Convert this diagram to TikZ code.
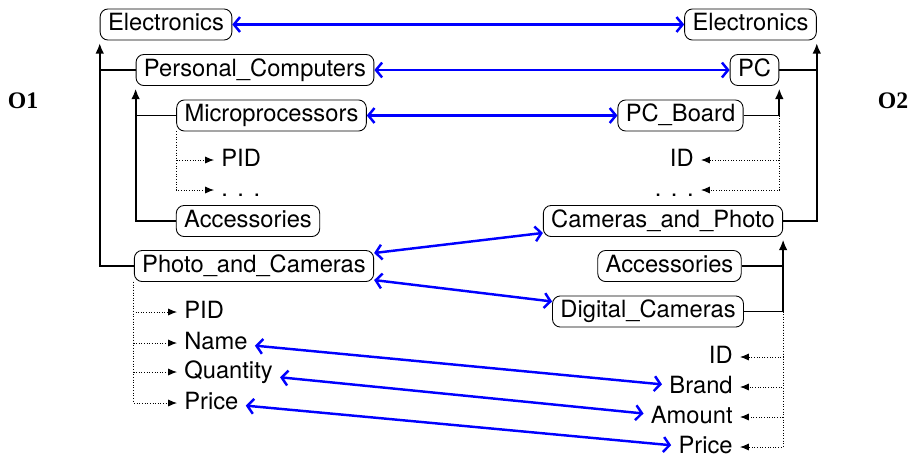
\documentclass[tikz,border=0pt]{standalone}
\usepackage{fontspec}
\setmainfont{TeX Gyre Heros}
\newfontfamily\ofont{Liberation Serif}
\usetikzlibrary{arrows.meta}

\begin{document}
\begin{tikzpicture}[x=0.02cm,y=-0.02cm,
  font=\fontsize{13.5}{16}\selectfont,
  box/.style={draw,line width=0.5pt,rounded corners=4.5pt,inner xsep=4.5pt,inner ysep=4pt,text height=0.85em,text depth=0.12em},
  attr/.style={inner sep=4pt,text height=0.85em,text depth=0.12em},
  tree/.style={line width=1.1pt,-{Latex[length=6pt,width=5pt]},shorten >=1.5pt},
  sub/.style={densely dotted,line width=0.5pt,-{Latex[length=5pt,width=4pt]}},
  link/.style={blue,line width=1.4pt,{Straight Barb[length=3.5pt,width=8.5pt]}-{Straight Barb[length=3.5pt,width=8.5pt]}}]
\useasboundingbox (0,0) rectangle (910,461);

\node[font=\ofont\bfseries\fontsize{13.5}{16}\selectfont] (o1) at (23,101) {O1};
\node[font=\ofont\bfseries\fontsize{13.5}{16}\selectfont] (o2) at (893,101) {O2};

\node[box] (eL) at (166,24.5) {Electronics};
\node[box] (pcL) at (255,70) {Personal\_Computers};
\node[box] (mp) at (271.5,115.5) {Microprocessors};
\node[attr,anchor=west] (pid1) at (214,160) {PID};
\node[attr,anchor=west] (dots1) at (214,190) {.\kern0.4em.\kern0.4em.};
\node[box] (accL) at (248,221) {Accessories};
\node[box] (pac) at (254,266) {Photo\_and\_Cameras};
\node[attr,anchor=west] (pid2) at (177,312) {PID};
\node[attr,anchor=west] (name) at (177,343) {Name};
\node[attr,anchor=west] (qty) at (177,372) {Quantity};
\node[attr,anchor=west] (priceL) at (177,403) {Price};

\node[box] (eR) at (750.5,24.5) {Electronics};
\node[box] (pc) at (754.5,70) {PC};
\node[box] (pcb) at (680.5,115.5) {PC\_Board};
\node[attr,anchor=east] (id1) at (701,160) {ID};
\node[attr,anchor=east] (dots2) at (701,190) {.\kern0.4em.\kern0.4em.};
\node[box] (cap) at (663,221) {Cameras\_and\_Photo};
\node[box] (accR) at (669.5,266) {Accessories};
\node[box] (dc) at (648,311.5) {Digital\_Cameras};
\node[attr,anchor=east] (idR) at (740,357) {ID};
\node[attr,anchor=east] (brand) at (740,387) {Brand};
\node[attr,anchor=east] (amount) at (740,417) {Amount};
\node[attr,anchor=east] (priceR) at (740,447) {Price};

\path[draw,line width=1.1pt] (pcL.west) -- (pcL.west -| eL.south west);
\path[draw,tree] (pac.west) -| (eL.south west);
\path[draw,line width=1.1pt] (mp.west) -- (mp.west -| pcL.south west);
\path[draw,tree] (accL.west) -| (pcL.south west);
\path[draw,sub] (mp.south west) |- (pid1.west);
\path[draw,sub] (mp.south west) |- (dots1.west);
\path[draw,sub] (pac.south west) |- (pid2.west);
\path[draw,sub] (pac.south west) |- (name.west);
\path[draw,sub] (pac.south west) |- (qty.west);
\path[draw,sub] (pac.south west) |- (priceL.west);

\path[draw,line width=1.1pt] (pc.east) -- (pc.east -| eR.south east);
\path[draw,tree] (cap.east) -| (eR.south east);
\path[draw,tree] (pcb.east) -| (pc.south east);
\path[draw,sub] (pcb.east -| pc.south east) |- (id1.east);
\path[draw,sub] (pcb.east -| pc.south east) |- (dots2.east);
\path[draw,line width=1.1pt] (accR.east) -- (accR.east -| cap.south east);
\path[draw,tree] (dc.east) -| (cap.south east);
\path[draw,sub] (dc.east -| cap.south east) |- (idR.east);
\path[draw,sub] (dc.east -| cap.south east) |- (brand.east);
\path[draw,sub] (dc.east -| cap.south east) |- (amount.east);
\path[draw,sub] (dc.east -| cap.south east) |- (priceR.east);

\path[draw,link] (eL.east) -- (eR.west);
\path[draw,link] (pcL.east) -- (pc.west);
\path[draw,link] (mp.east) -- (pcb.west);
\path[draw,link] ([yshift=7.4pt]pac.east) -- ([yshift=-6.8pt]cap.west);
\path[draw,link] ([yshift=-8pt]pac.east) -- ([yshift=5.7pt]dc.west);
\path[draw,link] ([yshift=-1.5pt]name.east) -- ([yshift=1.5pt]brand.west);
\path[draw,link] ([yshift=-3pt]qty.east) -- ([yshift=2pt]amount.west);
\path[draw,link] ([yshift=-1.5pt]priceL.east) -- ([yshift=1pt]priceR.west);
\end{tikzpicture}
\end{document}
